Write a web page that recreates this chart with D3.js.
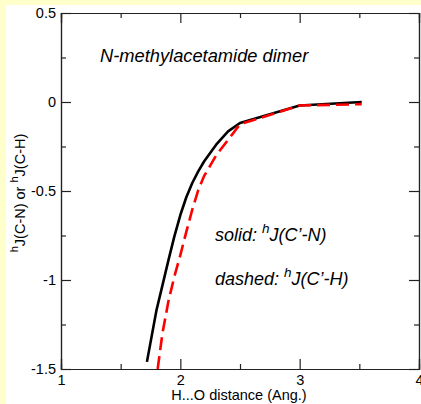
<!DOCTYPE html>
<html>
<head>
<meta charset="utf-8">
<script src="https://cdn.jsdelivr.net/npm/d3@7"></script>
<style>
  html, body { margin: 0; padding: 0; background: #ffffcc; }
  svg { display: block; font-family: "Liberation Sans", Arial, Helvetica, sans-serif; }
</style>
</head>
<body>
<svg id="chart" width="421" height="404"></svg>
<script>
// H...O distance (Angstrom) and coupling constants (Hz)
const solidX = [1.72, 1.8, 1.85, 1.9, 1.95, 2.0, 2.05, 2.1, 2.15, 2.2, 2.3, 2.4, 2.5, 3.0, 3.52];
const solidY = [-1.46, -1.17, -1.03, -0.89, -0.755, -0.635, -0.535, -0.455, -0.39, -0.333, -0.24, -0.165, -0.118, -0.02, 0.0];
const dashedX = [1.81, 1.85, 1.9, 1.95, 2.0, 2.05, 2.1, 2.15, 2.2, 2.3, 2.4, 2.5, 3.0, 3.52];
const dashedY = [-1.5, -1.3, -1.12, -0.98, -0.86, -0.73, -0.605, -0.495, -0.415, -0.3, -0.213, -0.125, -0.02, -0.012];

const xMajor = [1, 2, 3, 4];
const xMinor = [1.5, 2.5, 3.5];
const yMajor = [0.5, 0, -0.5, -1, -1.5];
const yMinor = [0.25, -0.25, -0.75, -1.25];

const svg = d3.select("#chart");

// white drawing page over the yellow canvas
svg.append("rect").attr("x", 6).attr("y", 5).attr("width", 415).attr("height", 399).attr("fill", "#ffffff");

const x = d3.scaleLinear().domain([1, 4]).range([61, 419]);
const y = d3.scaleLinear().domain([-1.5, 0.5]).range([369, 13]);

const axisColor = "#222";
function styleAxis(g) {
  g.selectAll("path.domain").attr("stroke", axisColor).attr("stroke-width", 1.2);
  g.selectAll(".tick line").attr("stroke", axisColor).attr("stroke-width", 1.2);
  g.selectAll(".tick text").attr("fill", "#000").style("font-size", "14.5px")
    .style("font-family", "'Liberation Sans', Arial, Helvetica, sans-serif");
}

// bottom
svg.append("g").attr("transform", `translate(0,${y(-1.5)})`)
  .call(d3.axisBottom(x).tickValues(xMajor).tickSize(-10).tickPadding(6).tickFormat(d3.format("d")))
  .call(styleAxis);
svg.append("g").attr("transform", `translate(0,${y(-1.5)})`)
  .call(d3.axisBottom(x).tickValues(xMinor).tickSize(-5).tickFormat(""))
  .call(styleAxis);
// top
svg.append("g").attr("transform", `translate(0,${y(0.5)})`)
  .call(d3.axisTop(x).tickValues(xMajor).tickSize(-10).tickFormat(""))
  .call(styleAxis);
svg.append("g").attr("transform", `translate(0,${y(0.5)})`)
  .call(d3.axisTop(x).tickValues(xMinor).tickSize(-5).tickFormat(""))
  .call(styleAxis);
// left
svg.append("g").attr("transform", `translate(${x(1)},0)`)
  .call(d3.axisLeft(y).tickValues(yMajor).tickSize(-10).tickPadding(5).tickFormat(d => d === 0 ? "0" : String(d)))
  .call(styleAxis);
svg.append("g").attr("transform", `translate(${x(1)},0)`)
  .call(d3.axisLeft(y).tickValues(yMinor).tickSize(-5).tickFormat(""))
  .call(styleAxis);
// right
svg.append("g").attr("transform", `translate(${x(4)},0)`)
  .call(d3.axisRight(y).tickValues(yMajor).tickSize(-10).tickFormat(""))
  .call(styleAxis);
svg.append("g").attr("transform", `translate(${x(4)},0)`)
  .call(d3.axisRight(y).tickValues(yMinor).tickSize(-5).tickFormat(""))
  .call(styleAxis);

// curves
const line = d3.line().x(d => x(d[0])).y(d => y(d[1]));
const solidPts = solidX.map((v, i) => [v, solidY[i]]);
const dashedPts = dashedX.map((v, i) => [v, dashedY[i]]);

svg.append("path").datum(solidPts).attr("d", line)
  .attr("fill", "none").attr("stroke", "#000").attr("stroke-width", 2.6)
  .attr("stroke-linejoin", "round");
svg.append("path").datum(dashedPts).attr("d", line)
  .attr("fill", "none").attr("stroke", "#ff0000").attr("stroke-width", 2.6)
  .attr("stroke-dasharray", "13,6");

// axis titles
svg.append("text").attr("x", 239).attr("y", 400).attr("text-anchor", "middle")
  .style("font-size", "14.5px").text("H...O distance (Ang.)");

const yt = svg.append("text").attr("transform", "translate(25,193) rotate(-90)")
  .attr("text-anchor", "middle").style("font-size", "14.5px");
yt.append("tspan").attr("dy", -7).style("font-size", "11px").text("h");
yt.append("tspan").attr("dy", 7).text("J(C-N) or ");
yt.append("tspan").attr("dy", -7).style("font-size", "11px").text("h");
yt.append("tspan").attr("dy", 7).text("J(C-H)");

// annotations
svg.append("text").attr("x", 100).attr("y", 62).style("font-size", "18.3px")
  .style("font-style", "italic").text("N-methylacetamide dimer");

function note(yPos, label, coupling) {
  const t = svg.append("text").attr("x", 215).attr("y", yPos)
    .style("font-size", "18px").style("font-style", "italic");
  t.append("tspan").text(label + " ");
  t.append("tspan").attr("dy", -8).style("font-size", "13.5px").text("h");
  t.append("tspan").attr("dy", 8).text(coupling);
}
note(241, "solid:", "J(C\u2019-N)");
note(285, "dashed:", "J(C\u2019-H)");
</script>
</body>
</html>
